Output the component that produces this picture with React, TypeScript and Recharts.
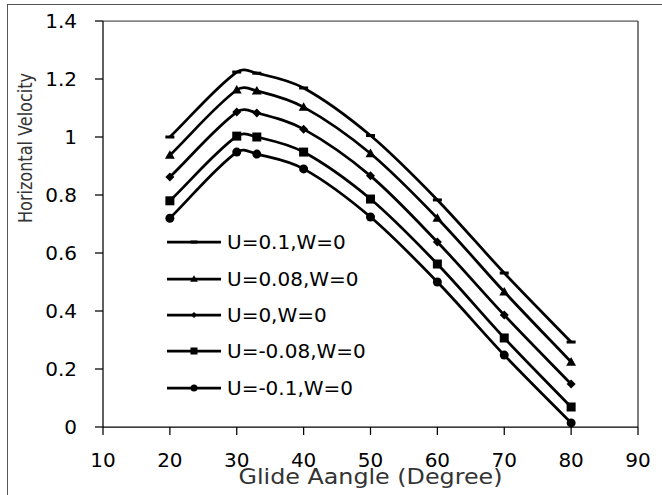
import React from 'react';
import { LineChart, Line, XAxis, YAxis, Legend, ReferenceLine } from 'recharts';

const angles = [20, 30, 33, 40, 50, 60, 70, 80];
const uPos010 = [1.0, 1.224, 1.22, 1.169, 1.005, 0.783, 0.531, 0.293];
const uPos008 = [0.937, 1.162, 1.159, 1.103, 0.943, 0.72, 0.466, 0.224];
const uZero = [0.862, 1.086, 1.083, 1.027, 0.866, 0.638, 0.386, 0.148];
const uNeg008 = [0.78, 1.003, 1.0, 0.948, 0.786, 0.562, 0.307, 0.069];
const uNeg010 = [0.72, 0.948, 0.941, 0.89, 0.724, 0.5, 0.248, 0.014];

const xTicks = [10, 20, 30, 40, 50, 60, 70, 80, 90];
const yTicks = [0, 0.2, 0.4, 0.6, 0.8, 1, 1.2, 1.4];

const series = [
  { key: 'p010', name: 'U=0.1,W=0', values: uPos010, marker: 'dash' },
  { key: 'p008', name: 'U=0.08,W=0', values: uPos008, marker: 'triangle' },
  { key: 'zero', name: 'U=0,W=0', values: uZero, marker: 'diamond' },
  { key: 'n008', name: 'U=-0.08,W=0', values: uNeg008, marker: 'square' },
  { key: 'n010', name: 'U=-0.1,W=0', values: uNeg010, marker: 'circle' },
];

const data = angles.map((a, i) => {
  const row: Record<string, number> = { angle: a };
  series.forEach((s) => { row[s.key] = s.values[i]; });
  return row;
});

const FONT = '"DejaVu Sans", sans-serif';

// smooth line: cubic hermite with centred slopes (close to the spreadsheet smoothing)
const smoothCurve = (context: any) => {
  let xs: number[] = [];
  let ys: number[] = [];
  return {
    areaStart() {},
    areaEnd() {},
    lineStart() { xs = []; ys = []; },
    point(x: number, y: number) { xs.push(+x); ys.push(+y); },
    lineEnd() {
      const n = xs.length;
      if (!n) return;
      context.moveTo(xs[0], ys[0]);
      if (n < 2) return;
      const m = xs.map((_, i) => {
        const a = Math.max(i - 1, 0);
        const b = Math.min(i + 1, n - 1);
        return (ys[b] - ys[a]) / (xs[b] - xs[a]);
      });
      for (let i = 0; i < n - 1; i++) {
        const h = (xs[i + 1] - xs[i]) / 3;
        context.bezierCurveTo(
          xs[i] + h, ys[i] + m[i] * h,
          xs[i + 1] - h, ys[i + 1] - m[i + 1] * h,
          xs[i + 1], ys[i + 1],
        );
      }
    },
  };
};

const Marker = ({ type, cx, cy, s }: { type: string; cx: number; cy: number; s: number }) => {
  const h = s / 2;
  switch (type) {
    case 'dash':
      return <rect x={cx - h} y={cy - 1.5} width={s} height={3} fill="#000" />;
    case 'triangle':
      return <polygon points={`${cx},${cy - h * 1.1} ${cx + h * 1.1},${cy + h * 0.8} ${cx - h * 1.1},${cy + h * 0.8}`} fill="#000" />;
    case 'diamond':
      return <polygon points={`${cx},${cy - h} ${cx + h},${cy} ${cx},${cy + h} ${cx - h},${cy}`} fill="#000" />;
    case 'square':
      return <rect x={cx - h} y={cy - h} width={s} height={s} fill="#000" />;
    default:
      return <circle cx={cx} cy={cy} r={h} fill="#000" />;
  }
};

const makeDot = (type: string, key: string) => (props: any) => {
  const { cx, cy, index } = props;
  if (cx == null || cy == null) return <g key={`${key}-${index}`} />;
  return (
    <g key={`${key}-${index}`}>
      <Marker type={type} cx={cx} cy={cy} s={9} />
    </g>
  );
};

const renderLegend = () => (
  <div style={{ fontFamily: FONT, fontSize: 20, color: '#000' }}>
    {series.map((s) => (
      <div key={s.key} style={{ display: 'flex', alignItems: 'center', height: 36.4 }}>
        <svg width={56} height={14} style={{ display: 'block' }}>
          <line x1={0} y1={7} x2={54} y2={7} stroke="#000" strokeWidth={2.75} />
          <Marker type={s.marker} cx={27} cy={7} s={s.marker === 'diamond' ? 6 : 7} />
        </svg>
        <span style={{ marginLeft: 4, whiteSpace: 'nowrap' }}>{s.name}</span>
      </div>
    ))}
  </div>
);

const YTitle = ({ viewBox }: any) => {
  const x = viewBox.x + 32;
  const y = viewBox.y + 127;
  return (
    <text x={x} y={y} transform={`rotate(-90, ${x}, ${y})`} textAnchor="middle"
      fontFamily={FONT} fontSize={20} fill="#333" textLength={150} lengthAdjust="spacingAndGlyphs">
      Horizontal Velocity
    </text>
  );
};

const XTitle = ({ viewBox }: any) => {
  const x = viewBox.x + viewBox.width / 2;
  const y = viewBox.y + 57;
  return (
    <text x={x} y={y} textAnchor="middle" fontFamily={FONT} fontSize={22} fill="#333"
      textLength={264} lengthAdjust="spacingAndGlyphs">
      Glide Aangle (Degree)
    </text>
  );
};

const tickStyle = { fontFamily: FONT, fontSize: 20, fill: '#000' };

export default function App() {
  return (
    <div style={{ position: 'absolute', left: 0, top: 0, width: 662, height: 495, overflow: 'hidden', background: '#fff' }}>
      <div style={{ position: 'absolute', left: 7, top: 4, width: 700, height: 600, border: '1.5px solid #555' }} />
      <LineChart width={662} height={495} data={data} margin={{ top: 21, right: 24, bottom: 0, left: 0 }}>
        <XAxis
          dataKey="angle"
          type="number"
          domain={[10, 90]}
          ticks={xTicks}
          height={68}
          tickSize={8}
          tickMargin={18}
          tick={tickStyle}
          axisLine={{ stroke: '#000', strokeWidth: 1.25 }}
          tickLine={{ stroke: '#000', strokeWidth: 1.25 }}
          label={{ content: XTitle }}
        />
        <YAxis
          type="number"
          domain={[0, 1.4]}
          ticks={yTicks}
          width={103}
          tickSize={8}
          tickMargin={18}
          tick={tickStyle}
          axisLine={{ stroke: '#000', strokeWidth: 1.25 }}
          tickLine={{ stroke: '#000', strokeWidth: 1.25 }}
          label={{ content: YTitle }}
        />
        <ReferenceLine y={1.4} stroke="#555" strokeWidth={1.25} />
        <ReferenceLine x={90} stroke="#333" strokeWidth={1.25} />
        <Legend
          content={renderLegend}
          layout="horizontal"
          verticalAlign="middle"
          align="center"
          wrapperStyle={{ left: 167, top: 224, width: 'auto' }}
        />
        {series.map((s) => (
          <Line
            key={s.key}
            dataKey={s.key}
            name={s.name}
            type={smoothCurve as any}
            stroke="#000"
            strokeWidth={2.75}
            dot={makeDot(s.marker, s.key)}
            activeDot={false}
            isAnimationActive={false}
          />
        ))}
      </LineChart>
    </div>
  );
}
